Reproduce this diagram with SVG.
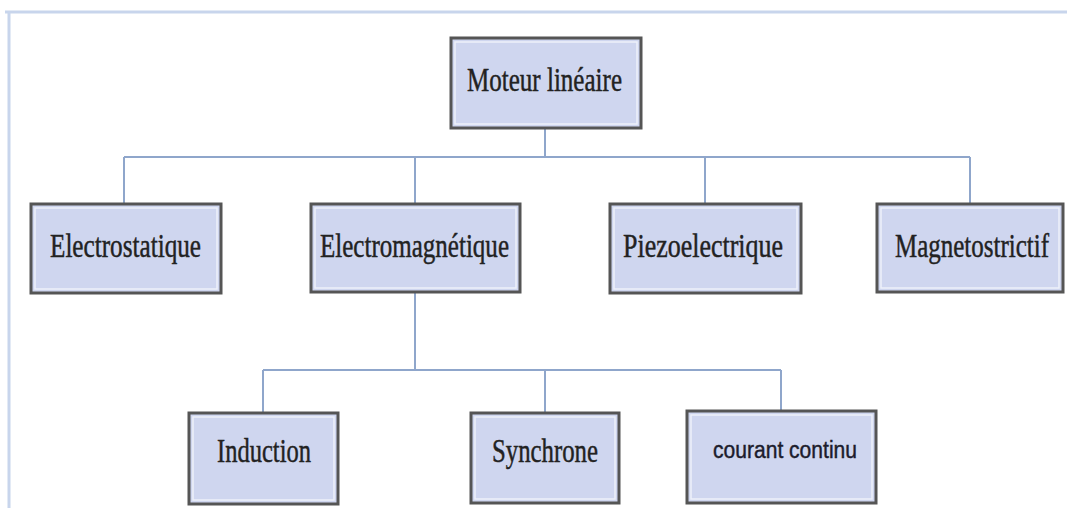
<svg xmlns="http://www.w3.org/2000/svg" width="1067" height="508" viewBox="0 0 1067 508">
<style>
.frame{stroke:#c8d5ec;stroke-width:3;fill:none}
.conn{stroke:#8fa6cb;stroke-width:2;fill:none}
.box{fill:#cfd6ef;stroke:#555;stroke-width:3}
.inner{fill:none;stroke:#eef1fa;stroke-width:1.5}
.lbl{font-family:"Liberation Serif","Times New Roman",serif;font-size:26px;fill:#222;stroke:#222;stroke-width:0.35}
.lbl2{font-family:"Liberation Sans",Arial,sans-serif;font-size:19px;fill:#1c1c2c;stroke:#1c1c2c;stroke-width:0.35}
</style>
<rect width="1067" height="508" fill="#ffffff"/>
<g id="frame">
<line class="frame" x1="5" y1="12" x2="1067" y2="12"/>
<line class="frame" x1="9" y1="11" x2="9" y2="508"/>
</g>
<g id="connectors">
<path class="conn" d="M545 129 V157 M124 157 H970 M124 157 V203 M415 157 V203 M705 157 V203 M970 157 V203"/>
<path class="conn" d="M415 293 V370 M263 370 H781 M263 370 V412 M545 370 V412 M781 370 V410"/>
</g>
<g id="n-moteur">
<rect class="box" x="451" y="38" width="190" height="90"/>
<rect class="inner" x="455" y="42" width="182" height="82"/>
<text class="lbl" transform="translate(467 91) scale(1 1.3)" textLength="155" lengthAdjust="spacingAndGlyphs">Moteur linéaire</text>
</g>
<g id="n-electrostatique">
<rect class="box" x="31" y="204" width="190" height="89"/>
<rect class="inner" x="35" y="208" width="182" height="81"/>
<text class="lbl" transform="translate(50 257) scale(1 1.3)" textLength="151" lengthAdjust="spacingAndGlyphs">Electrostatique</text>
</g>
<g id="n-electromagnetique">
<rect class="box" x="311" y="204" width="209" height="88"/>
<rect class="inner" x="315" y="208" width="201" height="80"/>
<text class="lbl" transform="translate(320 257) scale(1 1.3)" textLength="189" lengthAdjust="spacingAndGlyphs">Electromagnétique</text>
</g>
<g id="n-piezoelectrique">
<rect class="box" x="610" y="204" width="191" height="89"/>
<rect class="inner" x="614" y="208" width="183" height="81"/>
<text class="lbl" transform="translate(623 257) scale(1 1.3)" textLength="160" lengthAdjust="spacingAndGlyphs">Piezoelectrique</text>
</g>
<g id="n-magnetostrictif">
<rect class="box" x="877" y="204" width="186" height="88"/>
<rect class="inner" x="881" y="208" width="178" height="80"/>
<text class="lbl" transform="translate(895 257) scale(1 1.3)" textLength="154" lengthAdjust="spacingAndGlyphs">Magnetostrictif</text>
</g>
<g id="n-induction">
<rect class="box" x="189" y="413" width="149" height="91"/>
<rect class="inner" x="193" y="417" width="141" height="83"/>
<text class="lbl" transform="translate(217 462) scale(1 1.3)" textLength="94" lengthAdjust="spacingAndGlyphs">Induction</text>
</g>
<g id="n-synchrone">
<rect class="box" x="471" y="413" width="148" height="90"/>
<rect class="inner" x="475" y="417" width="140" height="82"/>
<text class="lbl" transform="translate(492 462) scale(1 1.3)" textLength="106" lengthAdjust="spacingAndGlyphs">Synchrone</text>
</g>
<g id="n-courant">
<rect class="box" x="687" y="411" width="189" height="92"/>
<rect class="inner" x="691" y="415" width="181" height="84"/>
<text class="lbl2" transform="translate(713 458) scale(1 1.25)" textLength="144" lengthAdjust="spacingAndGlyphs">courant continu</text>
</g>
</svg>
